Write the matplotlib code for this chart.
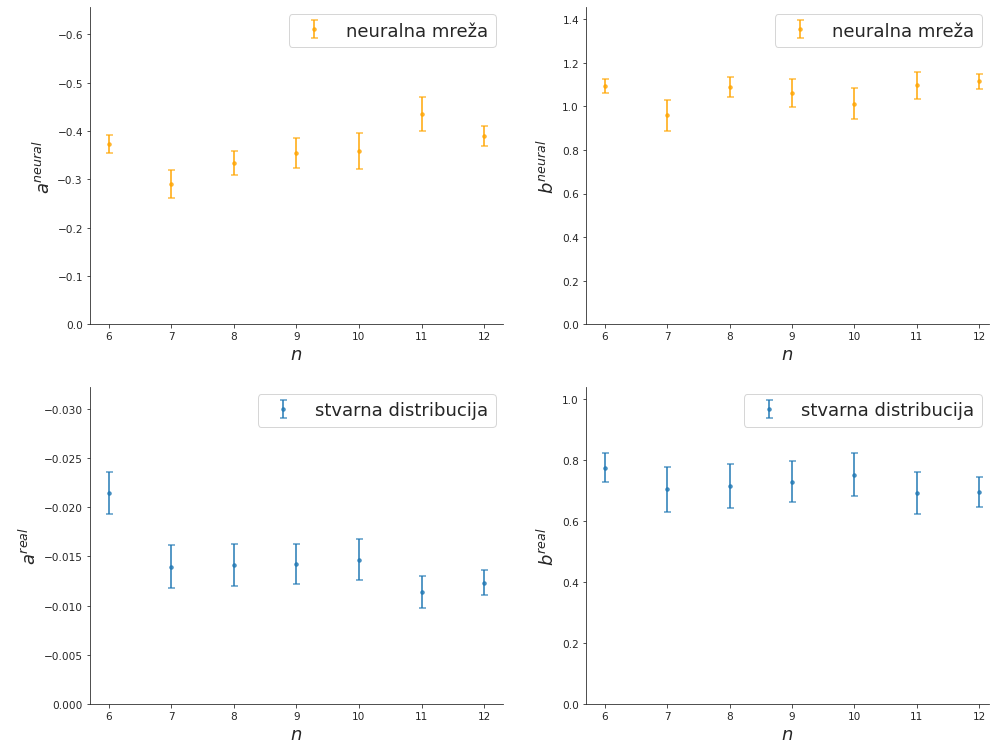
import matplotlib
matplotlib.use("Agg")
import matplotlib.pyplot as plt
import seaborn as sns

n = [6, 7, 8, 9, 10, 11, 12]

a_neural = [-0.373, -0.290, -0.334, -0.355, -0.358, -0.435, -0.390]
a_neural_err = [0.019, 0.029, 0.025, 0.031, 0.037, 0.035, 0.021]
b_neural = [1.094, 0.959, 1.088, 1.062, 1.013, 1.098, 1.115]
b_neural_err = [0.034, 0.070, 0.046, 0.063, 0.070, 0.062, 0.034]

a_real = [-0.02143, -0.01396, -0.0141, -0.01424, -0.01468, -0.01139, -0.01234]
a_real_err = [0.00216, 0.00219, 0.00214, 0.0020, 0.00207, 0.00163, 0.00124]
b_real = [0.775, 0.703, 0.714, 0.729, 0.752, 0.691, 0.695]
b_real_err = [0.049, 0.074, 0.071, 0.068, 0.070, 0.070, 0.048]

sns.set_style("ticks")
plt.rcParams['font.family'] = ['DejaVu Sans']

fig = plt.figure(figsize=(13.75, 10.36), dpi=72)

rects = {
    "tl": [0.0909, 0.564, 0.417, 0.425],
    "tr": [0.592, 0.564, 0.407, 0.425],
    "bl": [0.0909, 0.055, 0.417, 0.425],
    "br": [0.592, 0.055, 0.407, 0.425],
}

panels = [
    ("tl", a_neural, a_neural_err, "orange", "neuralna mreža", r"$a^{neural}$", (0, -0.656), (5.7, 12.3)),
    ("tr", b_neural, b_neural_err, "orange", "neuralna mreža", r"$b^{neural}$", (0, 1.455), (5.7, 12.16)),
    ("bl", a_real, a_real_err, "tab:blue", "stvarna distribucija", r"$a^{real}$", (0, -0.03224), (5.7, 12.3)),
    ("br", b_real, b_real_err, "tab:blue", "stvarna distribucija", r"$b^{real}$", (0, 1.039), (5.7, 12.16)),
]

for key, vals, errs, col, lab, ylab, ylim, xlim in panels:
    ax = fig.add_axes(rects[key])
    ax.errorbar(n, vals, yerr=errs, fmt='o', color=col, markersize=3.5,
                capsize=3.5, elinewidth=2, capthick=1.5, alpha=0.75, label=lab)
    ax.set_ylim(*ylim)
    ax.set_xlim(*xlim)
    ax.set_xticks(n)
    ax.tick_params(labelsize=10.5)
    ax.set_xlabel(r"$n$", fontsize=18)
    ax.set_ylabel(ylab, fontsize=18)
    ax.legend(loc="upper right", fontsize=18, borderaxespad=0.4)
    sns.despine(ax=ax)

fig.savefig("out.png", dpi=72)
